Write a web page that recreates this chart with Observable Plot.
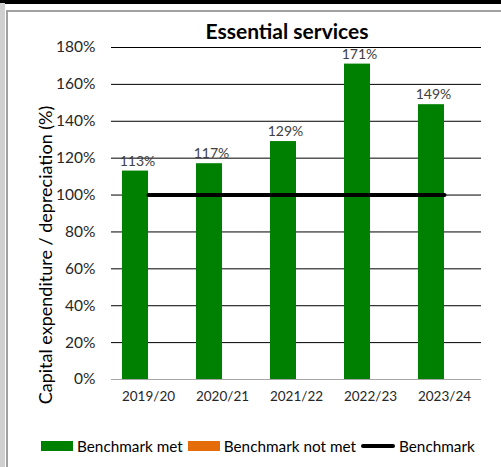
<!DOCTYPE html>
<html><head><meta charset="utf-8">
<script src="https://cdn.jsdelivr.net/npm/d3@7"></script>
<script src="https://cdn.jsdelivr.net/npm/@observablehq/plot@0.6"></script>
<style>
body{margin:0;background:#fff;font-family:Lato, "Open Sans", sans-serif;color:#262626;}
#wrap{position:relative;width:501px;height:467px;overflow:hidden;background:#fff;}
#chart{position:absolute;left:0;top:0;}
#overlay{position:absolute;left:0;top:0;}
.topband{position:absolute;left:0;top:0;width:501px;height:3.5px;background:#000;}
.leftstrip{position:absolute;left:0;top:3px;width:5px;height:470px;background:#cfcfcf;}
.vborder{position:absolute;left:6px;top:10px;width:1.5px;height:470px;background:#a0a0a0;}
.hborder{position:absolute;left:6px;top:10px;width:500px;height:1.5px;background:#a0a0a0;}
#title{position:absolute;left:157px;width:260px;top:19px;text-align:center;font-weight:bold;font-size:21px;line-height:24px;color:#000;}
#legend{position:absolute;left:41px;top:436px;display:flex;align-items:center;font-size:15.3px;color:#000;line-height:20px;white-space:nowrap;}
.item{display:flex;align-items:center;margin-right:5px;}
.sw{width:32px;height:10px;margin-right:4px;}
.ln{width:34px;height:4px;border-radius:2px;background:#000;margin-right:4px;}
</style></head><body>
<div id="wrap">
  <div class="topband"></div>
  <div class="leftstrip"></div>
  <div class="vborder"></div>
  <div class="hborder"></div>
  <div id="chart"></div>
  <svg id="overlay" width="501" height="467"></svg>
  <div id="title">Essential services</div>
  <div id="legend"></div>
</div>
<script>
const years = ["2019/20", "2020/21", "2021/22", "2022/23", "2023/24"];
const benchmarkMet = [1.13, 1.17, 1.29, 1.71, 1.49];
const benchmarkNotMet = [null, null, null, null, null];
const benchmark = [1, 1, 1, 1, 1];
const yTicks = [0, 0.2, 0.4, 0.6, 0.8, 1.0, 1.2, 1.4, 1.6, 1.8];
const seriesNames = ["Benchmark met", "Benchmark not met", "Benchmark"];
const seriesColors = ["#008000", "#E46C0A", "#000000"];
const yLabel = "Capital expenditure / depreciation (%)";

const data = years.map((y, i) => ({year: y, met: benchmarkMet[i], notMet: benchmarkNotMet[i], bench: benchmark[i]}));
const pct = d3.format(".0%");

const chart = Plot.plot({
  width: 501, height: 467,
  marginTop: 47, marginBottom: 88, marginLeft: 111, marginRight: 20,
  style: {fontFamily: "Lato, 'Open Sans', sans-serif", fontSize: "13.5px", color: "#262626", background: "transparent", overflow: "visible"},
  x: {domain: years, padding: 0, label: null, tickSize: 0, tickPadding: 12},
  y: {domain: [0, 1.8], ticks: 10, tickFormat: pct, label: null, tickSize: 0, tickPadding: 16},
  marks: [
    Plot.ruleY(yTicks.filter(d => d > 0), {stroke: "#000", strokeWidth: 1}),
    Plot.barY(data, {x: "year", y: "met", fill: seriesColors[0], insetLeft: 11, insetRight: 37}),
    Plot.barY(data.filter(d => d.notMet != null), {x: "year", y: "notMet", fill: seriesColors[1], insetLeft: 37, insetRight: 11}),
    Plot.ruleY([0], {stroke: "#a6a6a6", strokeWidth: 1}),
    Plot.lineY(data, {x: "year", y: "bench", stroke: seriesColors[2], strokeWidth: 4, strokeLinecap: "round"}),
    Plot.text(data, {x: "year", y: "met", text: d => pct(d.met), dx: -11, dy: -10, fontSize: 14, fill: "#404040"})
  ]
});
d3.select(chart).selectAll("g[aria-label='y-axis tick label'] text").style("font-size", "15.5px");
document.getElementById("chart").appendChild(chart);

d3.select("#overlay").append("text")
  .attr("transform", "translate(45,255) rotate(-90)")
  .attr("text-anchor", "middle")
  .attr("dominant-baseline", "central")
  .attr("font-family", "Lato, 'Open Sans', sans-serif")
  .attr("font-size", 18)
  .attr("fill", "#000")
  .text(yLabel);

const legend = document.getElementById("legend");
seriesNames.forEach((name, i) => {
  const item = document.createElement("div");
  item.className = "item";
  const sw = document.createElement("div");
  if (i < 2) { sw.className = "sw"; sw.style.background = seriesColors[i]; }
  else { sw.className = "ln"; }
  const t = document.createElement("span");
  t.textContent = name;
  item.appendChild(sw); item.appendChild(t);
  legend.appendChild(item);
});
</script>
</body></html>
